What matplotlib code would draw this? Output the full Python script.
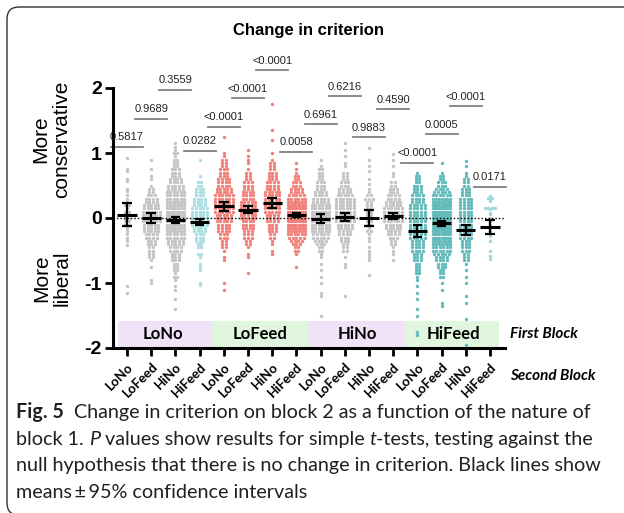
import numpy as np
import matplotlib
matplotlib.use('Agg')
import matplotlib.pyplot as plt
from matplotlib.patches import Rectangle, FancyBboxPatch

plt.rcParams['font.family'] = ['Liberation Sans', 'DejaVu Sans']
plt.rcParams['axes.unicode_minus'] = False

FIRST_BLOCKS = ['LoNo', 'LoFeed', 'HiNo', 'HiFeed']
SECOND_BLOCKS = ['LoNo', 'LoFeed', 'HiNo', 'HiFeed'] * 4

# dot columns as (criterion change, number of dots)
lono_lono = [(0.93, 1), (0.75, 1), (0.72, 1), (0.6, 1), (0.57, 1), (0.45, 1), (0.42, 1), (0.35, 1),
             (0.3, 1), (0.25, 1), (0.2, 2), (0.15, 1), (0.1, 2), (0.05, 2), (0.0, 2), (-0.05, 2),
             (-0.1, 2), (-0.15, 1), (-0.2, 1), (-0.25, 1), (-0.3, 1), (-0.35, 1), (-0.42, 1),
             (-1.05, 1), (-1.15, 1)]
lono_lofeed = [(0.9, 1), (0.75, 1), (0.65, 1), (0.6, 1), (0.5, 1), (0.45, 2), (0.4, 2), (0.35, 3),
               (0.3, 4), (0.25, 4), (0.2, 5), (0.15, 5), (0.1, 6), (0.05, 6), (0.0, 6), (-0.05, 6),
               (-0.1, 5), (-0.15, 5), (-0.2, 5), (-0.25, 4), (-0.3, 4), (-0.35, 3), (-0.4, 3),
               (-0.45, 2), (-0.5, 2), (-0.55, 2), (-0.6, 2), (-0.65, 1), (-0.75, 1), (-0.95, 1),
               (-1.0, 1)]
lono_hino = [(1.15, 1), (1.1, 1), (1.05, 1), (1.0, 2), (0.95, 1), (0.9, 2), (0.85, 2), (0.8, 2),
             (0.75, 3), (0.7, 3), (0.65, 3), (0.6, 4), (0.55, 4), (0.5, 5), (0.45, 5), (0.4, 6),
             (0.35, 6), (0.3, 6), (0.25, 7), (0.2, 7), (0.15, 7), (0.1, 8), (0.05, 8), (0.0, 8),
             (-0.05, 8), (-0.1, 7), (-0.15, 7), (-0.2, 7), (-0.25, 6), (-0.3, 6), (-0.35, 5),
             (-0.4, 5), (-0.45, 4), (-0.5, 4), (-0.55, 3), (-0.6, 3), (-0.65, 3), (-0.7, 2),
             (-0.75, 2), (-0.8, 2), (-0.85, 1), (-0.9, 2), (-0.95, 1), (-1.05, 1), (-1.1, 1),
             (-1.25, 1), (-1.4, 1), (-2.0, 1)]
lono_hifeed = [(0.9, 1), (0.65, 1), (0.55, 2), (0.5, 2), (0.45, 3), (0.4, 3), (0.35, 3), (0.3, 4),
               (0.25, 4), (0.2, 4), (0.15, 5), (0.1, 5), (0.05, 5), (0.0, 5), (-0.05, 5), (-0.1, 5),
               (-0.15, 4), (-0.2, 4), (-0.25, 3), (-0.3, 3), (-0.35, 3), (-0.4, 2), (-0.45, 2),
               (-0.55, 2), (-0.6, 1), (-0.7, 1), (-0.75, 1), (-0.8, 1), (-1.0, 1), (-1.03, 1)]
lofeed_lono = [(1.25, 1), (1.0, 1), (0.95, 1), (0.9, 2), (0.85, 2), (0.8, 2), (0.75, 3), (0.7, 3),
               (0.65, 3), (0.6, 4), (0.55, 4), (0.5, 4), (0.45, 5), (0.4, 5), (0.35, 6), (0.3, 6),
               (0.25, 6), (0.2, 6), (0.15, 6), (0.1, 6), (0.05, 5), (0.0, 5), (-0.05, 5), (-0.1, 4),
               (-0.15, 4), (-0.2, 4), (-0.25, 3), (-0.3, 3), (-0.35, 2), (-0.4, 2), (-0.45, 2),
               (-0.5, 1), (-0.6, 1), (-0.65, 1), (-1.0, 1), (-1.1, 1)]
lofeed_lofeed = [(1.05, 1), (0.95, 1), (0.9, 1), (0.85, 1), (0.75, 1), (0.7, 2), (0.65, 2), (0.6, 2),
                 (0.55, 3), (0.5, 3), (0.45, 3), (0.4, 4), (0.35, 4), (0.3, 4), (0.25, 5), (0.2, 5),
                 (0.15, 5), (0.1, 5), (0.05, 5), (0.0, 5), (-0.05, 4), (-0.1, 4), (-0.15, 4),
                 (-0.2, 3), (-0.25, 3), (-0.3, 3), (-0.35, 2), (-0.4, 2), (-0.45, 1), (-0.55, 1),
                 (-0.6, 1), (-0.85, 1)]
lofeed_hino = [(1.75, 1), (1.35, 1), (1.2, 1), (1.0, 1), (0.9, 1), (0.85, 2), (0.8, 2), (0.75, 2),
               (0.7, 3), (0.65, 3), (0.6, 3), (0.55, 4), (0.5, 4), (0.45, 4), (0.4, 5), (0.35, 5),
               (0.3, 5), (0.25, 5), (0.2, 5), (0.15, 5), (0.1, 5), (0.05, 4), (0.0, 4), (-0.05, 4),
               (-0.1, 3), (-0.15, 3), (-0.2, 3), (-0.25, 2), (-0.3, 2), (-0.35, 1), (-0.4, 1),
               (-0.5, 1), (-0.55, 1)]
lofeed_hifeed = [(0.85, 1), (0.75, 1), (0.7, 1), (0.65, 2), (0.6, 2), (0.55, 3), (0.5, 3), (0.45, 4),
                 (0.4, 4), (0.35, 5), (0.3, 6), (0.25, 7), (0.2, 8), (0.15, 9), (0.1, 10), (0.05, 10),
                 (0.0, 10), (-0.05, 9), (-0.1, 9), (-0.15, 8), (-0.2, 7), (-0.25, 6), (-0.3, 5),
                 (-0.35, 4), (-0.4, 3), (-0.45, 2), (-0.5, 2), (-0.55, 1), (-0.75, 1)]
hino_lono = [(0.9, 1), (0.8, 1), (0.75, 2), (0.7, 2), (0.65, 2), (0.6, 2), (0.55, 3), (0.5, 3),
             (0.45, 3), (0.4, 4), (0.35, 4), (0.3, 5), (0.25, 5), (0.2, 6), (0.15, 6), (0.1, 7),
             (0.05, 7), (0.0, 7), (-0.05, 7), (-0.1, 6), (-0.15, 6), (-0.2, 6), (-0.25, 5),
             (-0.3, 5), (-0.35, 4), (-0.4, 3), (-0.45, 2), (-0.5, 2), (-0.55, 1), (-0.6, 1),
             (-0.7, 1), (-0.8, 1), (-0.9, 1), (-1.0, 1), (-1.15, 1), (-1.2, 1), (-1.5, 1)]
hino_lofeed = [(1.15, 1), (1.05, 1), (0.95, 1), (0.85, 1), (0.8, 1), (0.7, 2), (0.65, 2), (0.6, 2),
               (0.55, 3), (0.5, 3), (0.45, 4), (0.4, 4), (0.35, 5), (0.3, 6), (0.25, 6), (0.2, 6),
               (0.15, 6), (0.1, 6), (0.05, 6), (0.0, 6), (-0.05, 6), (-0.1, 5), (-0.15, 5),
               (-0.2, 4), (-0.25, 4), (-0.3, 3), (-0.35, 3), (-0.4, 2), (-0.45, 2), (-0.5, 2),
               (-0.6, 1), (-0.7, 1), (-0.75, 1), (-1.2, 1)]
hino_hino = [(1.08, 1), (0.9, 1), (0.8, 1), (0.72, 1), (0.6, 1), (0.52, 1), (0.45, 1), (0.4, 1),
             (0.35, 2), (0.3, 3), (0.25, 2), (0.2, 2), (0.15, 2), (0.1, 2), (0.05, 2), (0.0, 2),
             (-0.05, 2), (-0.1, 2), (-0.15, 1), (-0.2, 2), (-0.25, 1), (-0.3, 1), (-0.35, 1),
             (-0.45, 1), (-0.5, 1), (-0.55, 1), (-0.6, 1), (-0.65, 1), (-0.87, 1)]
hino_hifeed = [(0.98, 1), (0.9, 1), (0.8, 1), (0.7, 1), (0.65, 1), (0.55, 2), (0.5, 2), (0.45, 3),
               (0.4, 3), (0.35, 4), (0.3, 4), (0.25, 5), (0.2, 5), (0.15, 6), (0.1, 6), (0.05, 6),
               (0.0, 6), (-0.05, 6), (-0.1, 5), (-0.15, 5), (-0.2, 4), (-0.25, 4), (-0.3, 3),
               (-0.35, 2), (-0.4, 2), (-0.45, 1), (-0.5, 1), (-0.55, 1), (-0.65, 1)]
hifeed_lono = [(0.7, 1), (0.65, 2), (0.6, 2), (0.55, 2), (0.5, 3), (0.45, 3), (0.4, 3), (0.35, 4),
               (0.3, 4), (0.25, 4), (0.2, 5), (0.15, 5), (0.1, 5), (0.05, 5), (0.0, 5), (-0.05, 5),
               (-0.1, 5), (-0.15, 5), (-0.2, 5), (-0.25, 5), (-0.3, 5), (-0.35, 4), (-0.4, 4),
               (-0.45, 4), (-0.5, 4), (-0.55, 3), (-0.6, 3), (-0.65, 3), (-0.7, 2), (-0.75, 2),
               (-0.8, 2), (-0.85, 2), (-0.9, 1), (-0.95, 1), (-1.05, 1), (-1.15, 1), (-1.25, 1),
               (-1.4, 1), (-1.5, 1), (-1.75, 1), (-1.8, 1)]
hifeed_lofeed = [(0.85, 1), (0.7, 1), (0.65, 2), (0.6, 2), (0.55, 3), (0.5, 3), (0.45, 4), (0.4, 5),
                 (0.35, 6), (0.3, 7), (0.25, 8), (0.2, 9), (0.15, 10), (0.1, 10), (0.05, 11),
                 (0.0, 11), (-0.05, 11), (-0.1, 11), (-0.15, 10), (-0.2, 10), (-0.25, 9), (-0.3, 9),
                 (-0.35, 8), (-0.4, 7), (-0.45, 6), (-0.5, 6), (-0.55, 5), (-0.6, 4), (-0.65, 4),
                 (-0.7, 3), (-0.75, 3), (-0.8, 2), (-0.85, 2), (-0.9, 2), (-1.0, 1), (-1.1, 1),
                 (-1.3, 1), (-1.35, 1)]
hifeed_hino = [(0.88, 1), (0.8, 1), (0.7, 1), (0.65, 1), (0.6, 2), (0.55, 2), (0.5, 2), (0.45, 3),
               (0.4, 3), (0.35, 3), (0.3, 4), (0.25, 4), (0.2, 4), (0.15, 4), (0.1, 4), (0.05, 4),
               (0.0, 4), (-0.05, 4), (-0.1, 4), (-0.15, 4), (-0.2, 4), (-0.25, 4), (-0.3, 4),
               (-0.35, 3), (-0.4, 3), (-0.45, 3), (-0.5, 3), (-0.55, 2), (-0.6, 2), (-0.65, 2),
               (-0.7, 1), (-0.8, 1), (-0.9, 1), (-1.0, 1), (-1.2, 1), (-1.3, 1), (-1.55, 1),
               (-1.95, 1)]
hifeed_hifeed = [(0.34, 1), (0.31, 2), (0.29, 1), (0.26, 1), (0.16, 4), (0.14, 1), (0.08, 1),
                 (0.06, 1), (0.0, 1), (-0.05, 1), (-0.1, 1), (-0.15, 1), (-0.2, 1), (-0.28, 1),
                 (-0.35, 1), (-0.5, 1), (-0.58, 1), (-0.63, 1)]

GROUPS = [lono_lono, lono_lofeed, lono_hino, lono_hifeed,
          lofeed_lono, lofeed_lofeed, lofeed_hino, lofeed_hifeed,
          hino_lono, hino_lofeed, hino_hino, hino_hifeed,
          hifeed_lono, hifeed_lofeed, hifeed_hino, hifeed_hifeed]

# means and 95% CI as drawn
MEANS = [0.05, 0.0, -0.03, -0.06, 0.18, 0.13, 0.23, 0.05,
         -0.02, 0.01, 0.0, 0.03, -0.2, -0.08, -0.18, -0.14]
CI_HIGH = [0.23, 0.07, 0.02, -0.02, 0.25, 0.19, 0.31, 0.07,
           0.06, 0.07, 0.12, 0.08, -0.1, -0.04, -0.11, -0.03]
CI_LOW = [-0.13, -0.08, -0.08, -0.11, 0.11, 0.07, 0.16, 0.02,
          -0.08, -0.05, -0.13, -0.02, -0.29, -0.12, -0.26, -0.25]

P_LABELS = ['0.5817', '0.9689', '0.3559', '0.0282', '<0.0001', '<0.0001', '<0.0001', '0.0058',
            '0.6961', '0.6216', '0.9883', '0.4590', '<0.0001', '0.0005', '<0.0001', '0.0171']
P_BAR_Y = [1.1, 1.53, 1.97, 1.03, 1.4, 1.84, 2.27, 1.02,
           1.44, 1.87, 1.24, 1.67, 0.85, 1.29, 1.72, 0.48]

GRAY = '#c4c4c4'
SALMON = '#f0817a'
TEAL = '#63baba'
DOT_COLORS = [GRAY, GRAY, GRAY, '#a9dfe0',
              SALMON, SALMON, SALMON, SALMON,
              GRAY, GRAY, GRAY, GRAY,
              TEAL, TEAL, TEAL, '#9fd8d8']
BAND_COLORS = ['#f0e3f8', '#e0f6df', '#f0e3f8', '#e0f6df']

fig = plt.figure(figsize=(6.24, 5.13), dpi=100)
ax = fig.add_axes([113 / 624, 1 - 348 / 513, 392 / 624, 260 / 513])
ax.set_xlim(0.42, 16.62)
ax.set_ylim(-2, 2)

# swarm-like rows: dots sharing a value sit side by side
for i, (grp, col) in enumerate(zip(GROUPS, DOT_COLORS)):
    xs, ys = [], []
    for val, n in grp:
        step = min(0.15, 0.72 / max(n - 1, 1))
        offs = (np.arange(n) - (n - 1) / 2) * step
        xs.extend(i + 1 + offs)
        ys.extend([val] * n)
    ax.scatter(xs, ys, s=6, color=col, linewidths=0, zorder=2, clip_on=False)

xpos = np.arange(1, 17)
ax.hlines(MEANS, xpos - 0.4, xpos + 0.4, color='black', lw=2.2, zorder=5)
ax.vlines(xpos, CI_LOW, CI_HIGH, color='black', lw=1.6, zorder=5)
ax.hlines(CI_HIGH, xpos - 0.2, xpos + 0.2, color='black', lw=1.6, zorder=5)
ax.hlines(CI_LOW, xpos - 0.2, xpos + 0.2, color='black', lw=1.6, zorder=5)

ax.axhline(0, color='black', lw=1, ls=(0, (1, 1.5)), zorder=4)

for x, lab, y in zip(xpos, P_LABELS, P_BAR_Y):
    ax.plot([x - 0.66, x + 0.66], [y, y], color='#808080', lw=1.3, clip_on=False)
    ax.text(x, y + 0.07, lab, ha='center', va='bottom', fontsize=8, color='#222222', clip_on=False)

# first-block bands
for j, (name, bc) in enumerate(zip(FIRST_BLOCKS, BAND_COLORS)):
    x0 = 0.63 if j == 0 else 0.5 + 4 * j
    x1 = 16.37 if j == 3 else 4.5 + 4 * j
    ax.add_patch(Rectangle((x0, -2), x1 - x0, 0.42, facecolor=bc, edgecolor='none', zorder=1))
    ax.text(2.5 + 4 * j, -1.79, name, ha='center', va='center', fontsize=12,
            fontweight='bold', family=['Lato', 'DejaVu Sans'], zorder=3)

ax.text(16.82, -1.79, 'First Block', ha='left', va='center', fontsize=11, fontweight='bold',
        fontstyle='italic', family=['Lato', 'DejaVu Sans'], clip_on=False)
ax.text(16.82, -2.43, 'Second Block', ha='left', va='center', fontsize=11, fontweight='bold',
        fontstyle='italic', family=['Lato', 'DejaVu Sans'], clip_on=False)

for s in ['top', 'right']:
    ax.spines[s].set_visible(False)
ax.spines['left'].set_linewidth(2.2)
ax.spines['bottom'].set_linewidth(2.2)
ax.spines['left'].set_bounds(-2, 2)

ax.set_yticks([-2, -1, 0, 1, 2])
ax.set_yticklabels(['-2', '-1', '0', '1', '2'], fontsize=14, fontweight='bold')
ax.set_xticks(xpos)
ax.set_xticklabels(SECOND_BLOCKS, rotation=45, ha='right', rotation_mode='anchor',
                   fontsize=9.5, fontweight='bold', family=['Lato', 'DejaVu Sans'])
ax.tick_params(axis='both', direction='out', length=6, width=2, pad=2)
ax.tick_params(axis='x', pad=3)
ax.set_facecolor('none')

fig.text(0.494, 1 - 30 / 513, 'Change in criterion', ha='center', va='center',
         fontsize=12, fontweight='bold')
fig.text(51 / 624, 1 - 139 / 513, 'More\nconservative', rotation=90, ha='center', va='center',
         fontsize=15, linespacing=1.1, multialignment='center')
fig.text(52 / 624, 1 - 278 / 513, 'More\nliberal', rotation=90, ha='center', va='center',
         fontsize=15, linespacing=1.1, multialignment='center')

# rounded frame around figure + caption (right and bottom run off the page)
frame = FancyBboxPatch((0.07, -0.02), 7.0, 5.08, boxstyle='round,pad=0,rounding_size=0.12',
                       transform=fig.dpi_scale_trans, facecolor='none', edgecolor='#333333',
                       lw=1.0, clip_on=False)
fig.patches.append(frame)

# caption with mixed styles
CAP_FONT = ['Lato', 'DejaVu Sans']
CAP_SIZE = 14.2
caption = [
    [('Fig. 5', 'bold'), ('  Change in criterion on block 2 as a function of the nature of', 'normal')],
    [('block 1. ', 'normal'), ('P', 'italic'), (' values show results for simple ', 'normal'),
     ('t', 'italic'), ('-tests, testing against the', 'normal')],
    [('null hypothesis that there is no change in criterion. Black lines show', 'normal')],
    [('means\u2009\u00b1\u200995% confidence intervals', 'normal')],
]
baselines = [418, 445, 471.5, 498]

renderer = fig.canvas.get_renderer()


def run_width(txt, style):
    t = fig.text(0, 0, txt, fontsize=CAP_SIZE, family=CAP_FONT,
                 fontweight='bold' if style == 'bold' else 'normal',
                 fontstyle='italic' if style == 'italic' else 'normal')
    w = t.get_window_extent(renderer).width
    t.remove()
    return w


space_w = run_width('a a', 'normal') - run_width('aa', 'normal')
for line, base in zip(caption, baselines):
    xpx = 16
    for txt, style in line:
        lead = len(txt) - len(txt.lstrip(' '))
        trail = len(txt) - len(txt.rstrip(' '))
        core = txt.strip(' ')
        xpx += lead * space_w
        fig.text(xpx / 624, 1 - base / 513, core, fontsize=CAP_SIZE, family=CAP_FONT,
                 color='#231f20', va='baseline', ha='left',
                 fontweight='bold' if style == 'bold' else 'normal',
                 fontstyle='italic' if style == 'italic' else 'normal')
        xpx += run_width(core, style) + trail * space_w

fig.savefig('out.png', dpi=100)
